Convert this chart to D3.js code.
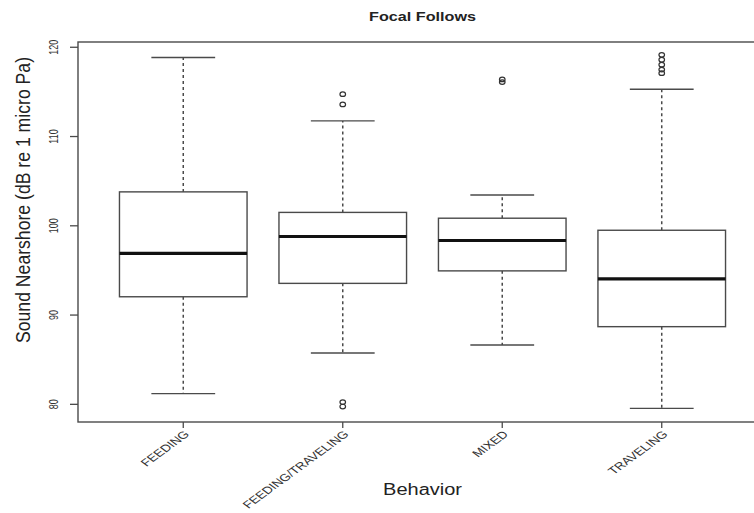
<!DOCTYPE html>
<html>
<head>
<meta charset="utf-8">
<script src="https://cdn.jsdelivr.net/npm/d3@7"></script>
<style>
  html, body { margin: 0; padding: 0; background: #fff; }
  svg { display: block; font-family: "Liberation Sans", Arial, Helvetica, sans-serif; }
</style>
</head>
<body>
<div id="chart"></div>
<script>
// ---- data ----
const categories   = ["FEEDING", "FEEDING/TRAVELING", "MIXED", "TRAVELING"];
const whiskerLow   = [81.2, 85.75, 86.65, 79.55];
const q1           = [92.05, 93.55, 94.95, 88.7];
const medians      = [96.9, 98.8, 98.35, 94.05];
const q3           = [103.8, 101.5, 100.85, 99.5];
const whiskerHigh  = [118.85, 111.75, 103.45, 115.3];
const outliers     = [[], [114.75, 113.6, 80.25, 79.75], [116.4, 116.1], [119.15, 118.6, 118.05, 117.5, 117.1]];
const yTicks       = [80, 90, 100, 110, 120];
const titleText    = "Focal Follows";
const xLabel       = "Behavior";
const yLabel       = "Sound Nearshore (dB re 1 micro Pa)";

const W = 754, H = 513;
const box = {left: 78, right: 767, top: 42, bottom: 422};
const SQ = 0.78; // vertical squash seen in the reference text

const svg = d3.select("#chart").append("svg").attr("width", W).attr("height", H);

const x = d3.scaleLinear().domain([0.34, 4.66]).range([box.left, box.right]);
const y = d3.scaleLinear().domain([78.02, 120.59]).range([box.bottom, box.top]);
const unit = x(2) - x(1);
const halfBox = unit * 0.4;
const halfCap = unit * 0.2;

const lineCol = "#4a4a4a";

const data = categories.map((c, i) => ({
  cat: c, pos: i + 1, lo: whiskerLow[i], q1: q1[i], med: medians[i], q3: q3[i], hi: whiskerHigh[i], out: outliers[i]
}));

const g = svg.append("g");

// whiskers (dashed)
g.selectAll(".wh-up").data(data).join("line")
  .attr("x1", d => x(d.pos)).attr("x2", d => x(d.pos))
  .attr("y1", d => y(d.q3)).attr("y2", d => y(d.hi))
  .attr("stroke", lineCol).attr("stroke-width", 1.5).attr("stroke-dasharray", "3,3");
g.selectAll(".wh-lo").data(data).join("line")
  .attr("x1", d => x(d.pos)).attr("x2", d => x(d.pos))
  .attr("y1", d => y(d.q1)).attr("y2", d => y(d.lo))
  .attr("stroke", lineCol).attr("stroke-width", 1.5).attr("stroke-dasharray", "3,3");
// caps
["hi", "lo"].forEach(k => {
  g.selectAll(".cap-" + k).data(data).join("line")
    .attr("x1", d => x(d.pos) - halfCap).attr("x2", d => x(d.pos) + halfCap)
    .attr("y1", d => y(d[k])).attr("y2", d => y(d[k]))
    .attr("stroke", lineCol).attr("stroke-width", 1.4);
});
// boxes
g.selectAll(".bx").data(data).join("rect")
  .attr("x", d => x(d.pos) - halfBox).attr("width", 2 * halfBox)
  .attr("y", d => y(d.q3)).attr("height", d => y(d.q1) - y(d.q3))
  .attr("fill", "#fff").attr("stroke", lineCol).attr("stroke-width", 1.4);
// medians
g.selectAll(".med").data(data).join("line")
  .attr("x1", d => x(d.pos) - halfBox).attr("x2", d => x(d.pos) + halfBox)
  .attr("y1", d => y(d.med)).attr("y2", d => y(d.med))
  .attr("stroke", "#111").attr("stroke-width", 3.2);
// outliers
const outPts = data.flatMap(d => d.out.map(v => ({pos: d.pos, v})));
g.selectAll(".out").data(outPts).join("ellipse")
  .attr("cx", d => x(d.pos)).attr("cy", d => y(d.v))
  .attr("rx", 2.8).attr("ry", 2.3)
  .attr("fill", "none").attr("stroke", "#333").attr("stroke-width", 1.2);

// plot frame
svg.append("rect")
  .attr("x", box.left).attr("y", box.top)
  .attr("width", box.right - box.left).attr("height", box.bottom - box.top)
  .attr("fill", "none").attr("stroke", lineCol).attr("stroke-width", 1.4);

// y axis ticks + labels
const yAxis = svg.append("g");
yAxis.selectAll("line").data(yTicks).join("line")
  .attr("x1", box.left - 8).attr("x2", box.left)
  .attr("y1", d => y(d)).attr("y2", d => y(d))
  .attr("stroke", lineCol).attr("stroke-width", 1.3);
yAxis.selectAll("text").data(yTicks).join("text")
  .attr("transform", d => `translate(58,${y(d)}) rotate(-90) scale(0.72,1)`)
  .attr("text-anchor", "middle")
  .attr("font-size", 12.5).attr("fill", "#333")
  .text(d => d);

// x axis ticks + labels
const xAxis = svg.append("g");
xAxis.selectAll("line").data(data).join("line")
  .attr("x1", d => x(d.pos)).attr("x2", d => x(d.pos))
  .attr("y1", box.bottom).attr("y2", box.bottom + 6)
  .attr("stroke", lineCol).attr("stroke-width", 1.3);
xAxis.selectAll("text").data(data).join("text")
  .attr("transform", d => `translate(${x(d.pos) + 3.5},432.5) scale(1,0.73) rotate(-45)`)
  .attr("text-anchor", "end").attr("dy", "0.35em")
  .attr("font-size", 13.9).attr("fill", "#333")
  .text(d => d.cat);

// title
svg.append("text")
  .attr("transform", `translate(${(box.left + box.right) / 2},20.7) scale(1,${SQ})`)
  .attr("text-anchor", "middle").attr("font-size", 16.2).attr("font-weight", "bold").attr("fill", "#222")
  .text(titleText);

// x label
svg.append("text")
  .attr("transform", `translate(${(box.left + box.right) / 2},495) scale(1,${SQ})`)
  .attr("text-anchor", "middle").attr("font-size", 20).attr("fill", "#222")
  .text(xLabel);

// y label
svg.append("text")
  .attr("transform", `translate(29.5,200) rotate(-90) scale(0.84,1)`)
  .attr("text-anchor", "middle").attr("font-size", 21).attr("fill", "#222")
  .text(yLabel);
</script>
</body>
</html>
